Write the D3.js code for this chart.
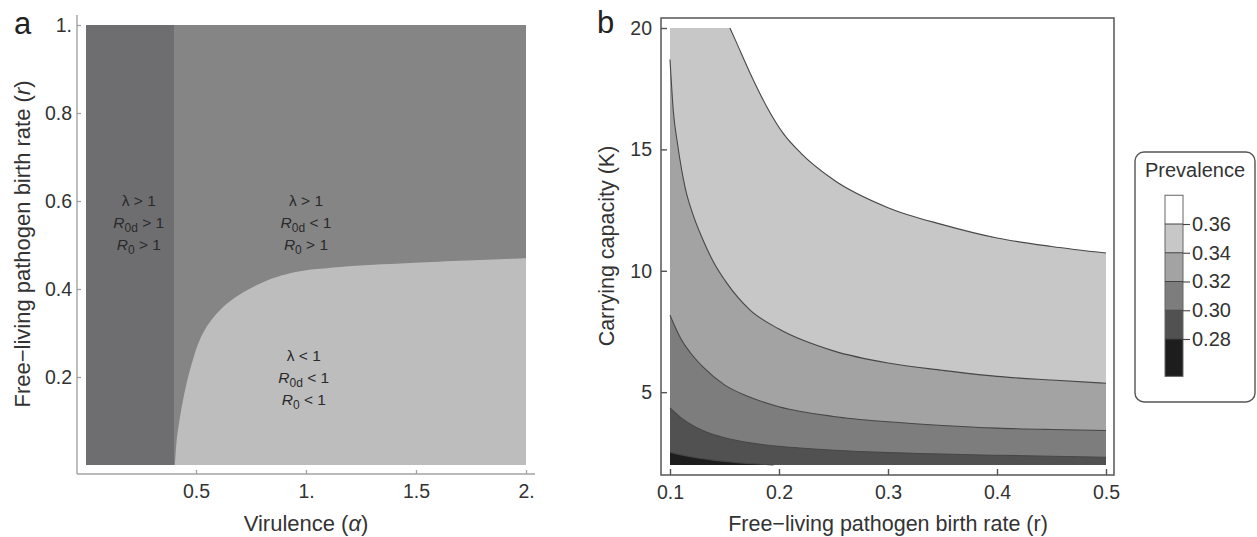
<!DOCTYPE html>
<html><head><meta charset="utf-8">
<script src="https://cdn.jsdelivr.net/npm/d3@7"></script>
<style>body{margin:0;background:#fff} text{font-family:"Liberation Sans",Arial,sans-serif}</style>
</head><body><svg id="c" width="1257" height="537"></svg>
<script>
// ---------- Panel a data ----------
const alphaTicks = [0.5, 1, 1.5, 2];
const rTicksA = [0.2, 0.4, 0.6, 0.8, 1];
const alphaCut = 0.4; // lambda = 1 boundary (vertical)
const boundAlpha = [0.4045, 0.4123, 0.4195, 0.44, 0.4727, 0.532, 0.623, 0.777, 0.927, 1.155, 1.473, 2.0];
const boundR     = [0,      0.057,  0.084,  0.145, 0.216, 0.300, 0.359, 0.409, 0.436, 0.450, 0.459, 0.470];
const labelAlpha = [0.24, 1.0, 0.99];
const labelR     = [0.539, 0.539, 0.186];
const relLambda  = [">", ">", "<"];
const relR0d     = [">", "<", "<"];
const relR0      = [">", ">", "<"];

// ---------- Panel b data ----------
const rTicksB = [0.1, 0.2, 0.3, 0.4, 0.5];
const kTicks = [5, 10, 15, 20];
const levels = [0.28, 0.30, 0.32, 0.34, 0.36];
const legendMin = 0.254, legendMax = 0.38;
const c36r = [0.155, 0.16, 0.1734, 0.189, 0.2037, 0.22, 0.25, 0.3, 0.35, 0.4, 0.45, 0.5];
const c36K = [20, 19.5, 18.15, 16.74, 15.67, 14.85, 13.75, 12.6, 11.9, 11.35, 11.0, 10.73];
const c34r = [0.1, 0.103, 0.107, 0.114, 0.122, 0.13, 0.14, 0.152, 0.173, 0.2, 0.25, 0.3, 0.35, 0.4, 0.45, 0.5];
const c34K = [18.7, 16.6, 15.2, 13.4, 12.2, 11.3, 10.35, 9.5, 8.4, 7.6, 6.7, 6.2, 5.9, 5.65, 5.5, 5.37];
const c32r = [0.1, 0.11, 0.12, 0.13, 0.15, 0.173, 0.2, 0.25, 0.3, 0.35, 0.4, 0.45, 0.5];
const c32K = [8.17, 7.2, 6.55, 6.05, 5.3, 4.8, 4.4, 4.0, 3.78, 3.63, 3.52, 3.46, 3.42];
const c30r = [0.1, 0.11, 0.12, 0.13, 0.15, 0.175, 0.2, 0.25, 0.3, 0.35, 0.4, 0.45, 0.5];
const c30K = [4.35, 3.95, 3.65, 3.42, 3.12, 2.9, 2.77, 2.61, 2.51, 2.45, 2.40, 2.36, 2.32];
const c28r = [0.1, 0.12, 0.14, 0.16, 0.18, 0.195];
const c28K = [2.53, 2.33, 2.2, 2.11, 2.04, 2.0];
// colours from high prevalence to low
const bandColors = ["#ffffff", "#c7c7c7", "#a3a3a3", "#7d7d7d", "#515151", "#1d1d1d"];

const svg = d3.select("#c");
const fmtMath = d => Number.isInteger(d) ? d + "." : String(d);

// ================= Panel a =================
const xA = d3.scaleLinear([0, 2], [86, 526]);
const yA = d3.scaleLinear([0, 1], [465, 25]);
const gA = svg.append("g");
gA.append("rect").attr("x", xA(0)).attr("y", yA(1))
  .attr("width", xA(alphaCut) - xA(0)).attr("height", yA(0) - yA(1)).attr("fill", "#6e6e71");
gA.append("rect").attr("x", xA(alphaCut)).attr("y", yA(1))
  .attr("width", xA(2) - xA(alphaCut)).attr("height", yA(0) - yA(1)).attr("fill", "#858586");
gA.append("path")
  .attr("d", d3.area().x(d => xA(d[0])).y0(yA(0)).y1(d => yA(d[1])).curve(d3.curveCatmullRom.alpha(0.5))(d3.zip(boundAlpha, boundR)))
  .attr("fill", "#bdbdbe");

// axis lines (offset from the plot)
gA.append("line").attr("x1", 77).attr("x2", 77).attr("y1", 15).attr("y2", 474).attr("stroke", "#a3a3a3").attr("stroke-width", 1.4);
gA.append("line").attr("x1", 77).attr("x2", 535).attr("y1", 474).attr("y2", 474).attr("stroke", "#a3a3a3").attr("stroke-width", 1.4);

const axA_y = gA.append("g").attr("transform", "translate(77,0)")
  .call(d3.axisLeft(yA).tickValues(rTicksA).tickSize(-4).tickSizeOuter(0).tickPadding(5).tickFormat(fmtMath));
const axA_x = gA.append("g").attr("transform", "translate(0,474)")
  .call(d3.axisBottom(xA).tickValues(alphaTicks).tickSize(-4).tickSizeOuter(0).tickPadding(10).tickFormat(fmtMath));
[axA_y, axA_x].forEach(ax => {
  ax.select(".domain").remove();
  ax.selectAll("line").attr("stroke", "#a3a3a3").attr("stroke-width", 1.3);
  ax.selectAll("text").attr("font-size", 19.5).attr("fill", "#333").attr("font-family", '"Liberation Sans",Arial,sans-serif');
});

// region annotations
labelAlpha.forEach((a, i) => {
  const cx = xA(a), cy = yA(labelR[i]);
  const t = gA.append("text").attr("text-anchor", "middle").attr("font-size", 15.5).attr("fill", "#2a2a2a");
  t.append("tspan").attr("x", cx).attr("y", cy - 22).text(`λ ${relLambda[i]} 1`);
  t.append("tspan").attr("x", cx).attr("y", cy).attr("font-style", "italic").text("R");
  t.append("tspan").attr("font-size", 12).attr("dy", 4).text("0d");
  t.append("tspan").attr("dy", -4).text(` ${relR0d[i]} 1`);
  t.append("tspan").attr("x", cx).attr("y", cy + 22).attr("font-style", "italic").text("R");
  t.append("tspan").attr("font-size", 12).attr("dy", 4).text("0");
  t.append("tspan").attr("dy", -4).text(` ${relR0[i]} 1`);
});

// titles
const tA = gA.append("text").attr("x", 306).attr("y", 531).attr("text-anchor", "middle").attr("font-size", 22).attr("fill", "#333");
tA.append("tspan").text("Virulence (");
tA.append("tspan").attr("font-style", "italic").text("α");
tA.append("tspan").text(")");
const tAy = gA.append("text").attr("transform", "translate(30,244) rotate(-90)").attr("text-anchor", "middle").attr("font-size", 22).attr("fill", "#333");
tAy.append("tspan").text("Free\u2212living pathogen birth rate (");
tAy.append("tspan").attr("font-style", "italic").text("r");
tAy.append("tspan").text(")");
svg.append("text").attr("x", 14).attr("y", 34).attr("font-size", 31).attr("fill", "#222").text("a");

// ================= Panel b =================
const xB = d3.scaleLinear([0.1, 0.5], [670, 1106]);
const yB = d3.scaleLinear([2, 20], [465, 28]);
const gB = svg.append("g");
gB.append("rect").attr("x", xB(0.1)).attr("y", yB(20))
  .attr("width", xB(0.5) - xB(0.1)).attr("height", yB(2) - yB(20)).attr("fill", bandColors[1]);
const contours = [d3.zip(c36r, c36K), d3.zip(c34r, c34K), d3.zip(c32r, c32K), d3.zip(c30r, c30K), d3.zip(c28r, c28K)];
// region above the 0.36 contour
gB.append("path")
  .attr("d", d3.area().x(d => xB(d[0])).y0(yB(20)).y1(d => yB(d[1])).curve(d3.curveMonotoneX)(contours[0]))
  .attr("fill", bandColors[0]);
// regions below the lower contours
for (let i = 1; i < contours.length; i++) {
  gB.append("path")
    .attr("d", d3.area().x(d => xB(d[0])).y0(yB(2)).y1(d => yB(d[1])).curve(d3.curveMonotoneX)(contours[i]))
    .attr("fill", bandColors[i + 1]);
}
contours.forEach(c => {
  gB.append("path")
    .attr("d", d3.line().x(d => xB(d[0])).y(d => yB(d[1])).curve(d3.curveMonotoneX)(c))
    .attr("fill", "none").attr("stroke", "#474747").attr("stroke-width", 1.1);
});
gB.append("rect").attr("x", 661).attr("y", 18).attr("width", 453).attr("height", 457)
  .attr("fill", "none").attr("stroke", "#555").attr("stroke-width", 1.5);

const axB_y = gB.append("g").attr("transform", "translate(661,0)")
  .call(d3.axisLeft(yB).tickValues(kTicks).tickSize(-6).tickSizeOuter(0).tickPadding(9));
const axB_x = gB.append("g").attr("transform", "translate(0,475)")
  .call(d3.axisBottom(xB).tickValues(rTicksB).tickSize(-6).tickSizeOuter(0).tickPadding(10).tickFormat(d3.format(".1f")));
[axB_y, axB_x].forEach(ax => {
  ax.select(".domain").remove();
  ax.selectAll("line").attr("stroke", "#555").attr("stroke-width", 1.4);
  ax.selectAll("text").attr("font-size", 19.5).attr("fill", "#333").attr("font-family", '"Liberation Sans",Arial,sans-serif');
});
gB.append("text").attr("x", 888).attr("y", 531).attr("text-anchor", "middle").attr("font-size", 21.5).attr("fill", "#333")
  .text("Free\u2212living pathogen birth rate (r)");
gB.append("text").attr("transform", "translate(614,246) rotate(-90)").attr("text-anchor", "middle").attr("font-size", 21.5).attr("fill", "#333")
  .text("Carrying capacity (K)");
svg.append("text").attr("x", 597).attr("y", 33).attr("font-size", 31).attr("fill", "#222").text("b");

// ================= Legend =================
const gL = svg.append("g");
gL.append("rect").attr("x", 1135).attr("y", 152).attr("width", 120).attr("height", 250).attr("rx", 9)
  .attr("fill", "#fff").attr("stroke", "#555").attr("stroke-width", 1.4);
gL.append("text").attr("x", 1195).attr("y", 177).attr("text-anchor", "middle").attr("font-size", 20).attr("fill", "#333").text("Prevalence");
const yL = d3.scaleLinear([0.28, 0.36], [339, 224]);
const edges = [legendMax, ...levels.slice().reverse(), legendMin];
for (let i = 0; i < edges.length - 1; i++) {
  gL.append("rect").attr("x", 1165).attr("width", 18)
    .attr("y", yL(edges[i])).attr("height", yL(edges[i + 1]) - yL(edges[i]))
    .attr("fill", bandColors[i]);
}
gL.append("rect").attr("x", 1165).attr("width", 18).attr("y", yL(legendMax)).attr("height", yL(legendMin) - yL(legendMax))
  .attr("fill", "none").attr("stroke", "#666").attr("stroke-width", 1);
levels.forEach(v => {
  gL.append("line").attr("x1", 1165).attr("x2", 1183).attr("y1", yL(v)).attr("y2", yL(v)).attr("stroke", "#444").attr("stroke-width", 1);
});
const axL = gL.append("g").attr("transform", "translate(1183,0)")
  .call(d3.axisRight(yL).tickValues(levels).tickSize(7).tickSizeOuter(0).tickPadding(2).tickFormat(d3.format(".2f")));
axL.select(".domain").remove();
axL.selectAll("line").attr("stroke", "#444").attr("stroke-width", 1.1);
axL.selectAll("text").attr("font-size", 20).attr("fill", "#333").attr("font-family", '"Liberation Sans",Arial,sans-serif');
</script>
</body></html>
